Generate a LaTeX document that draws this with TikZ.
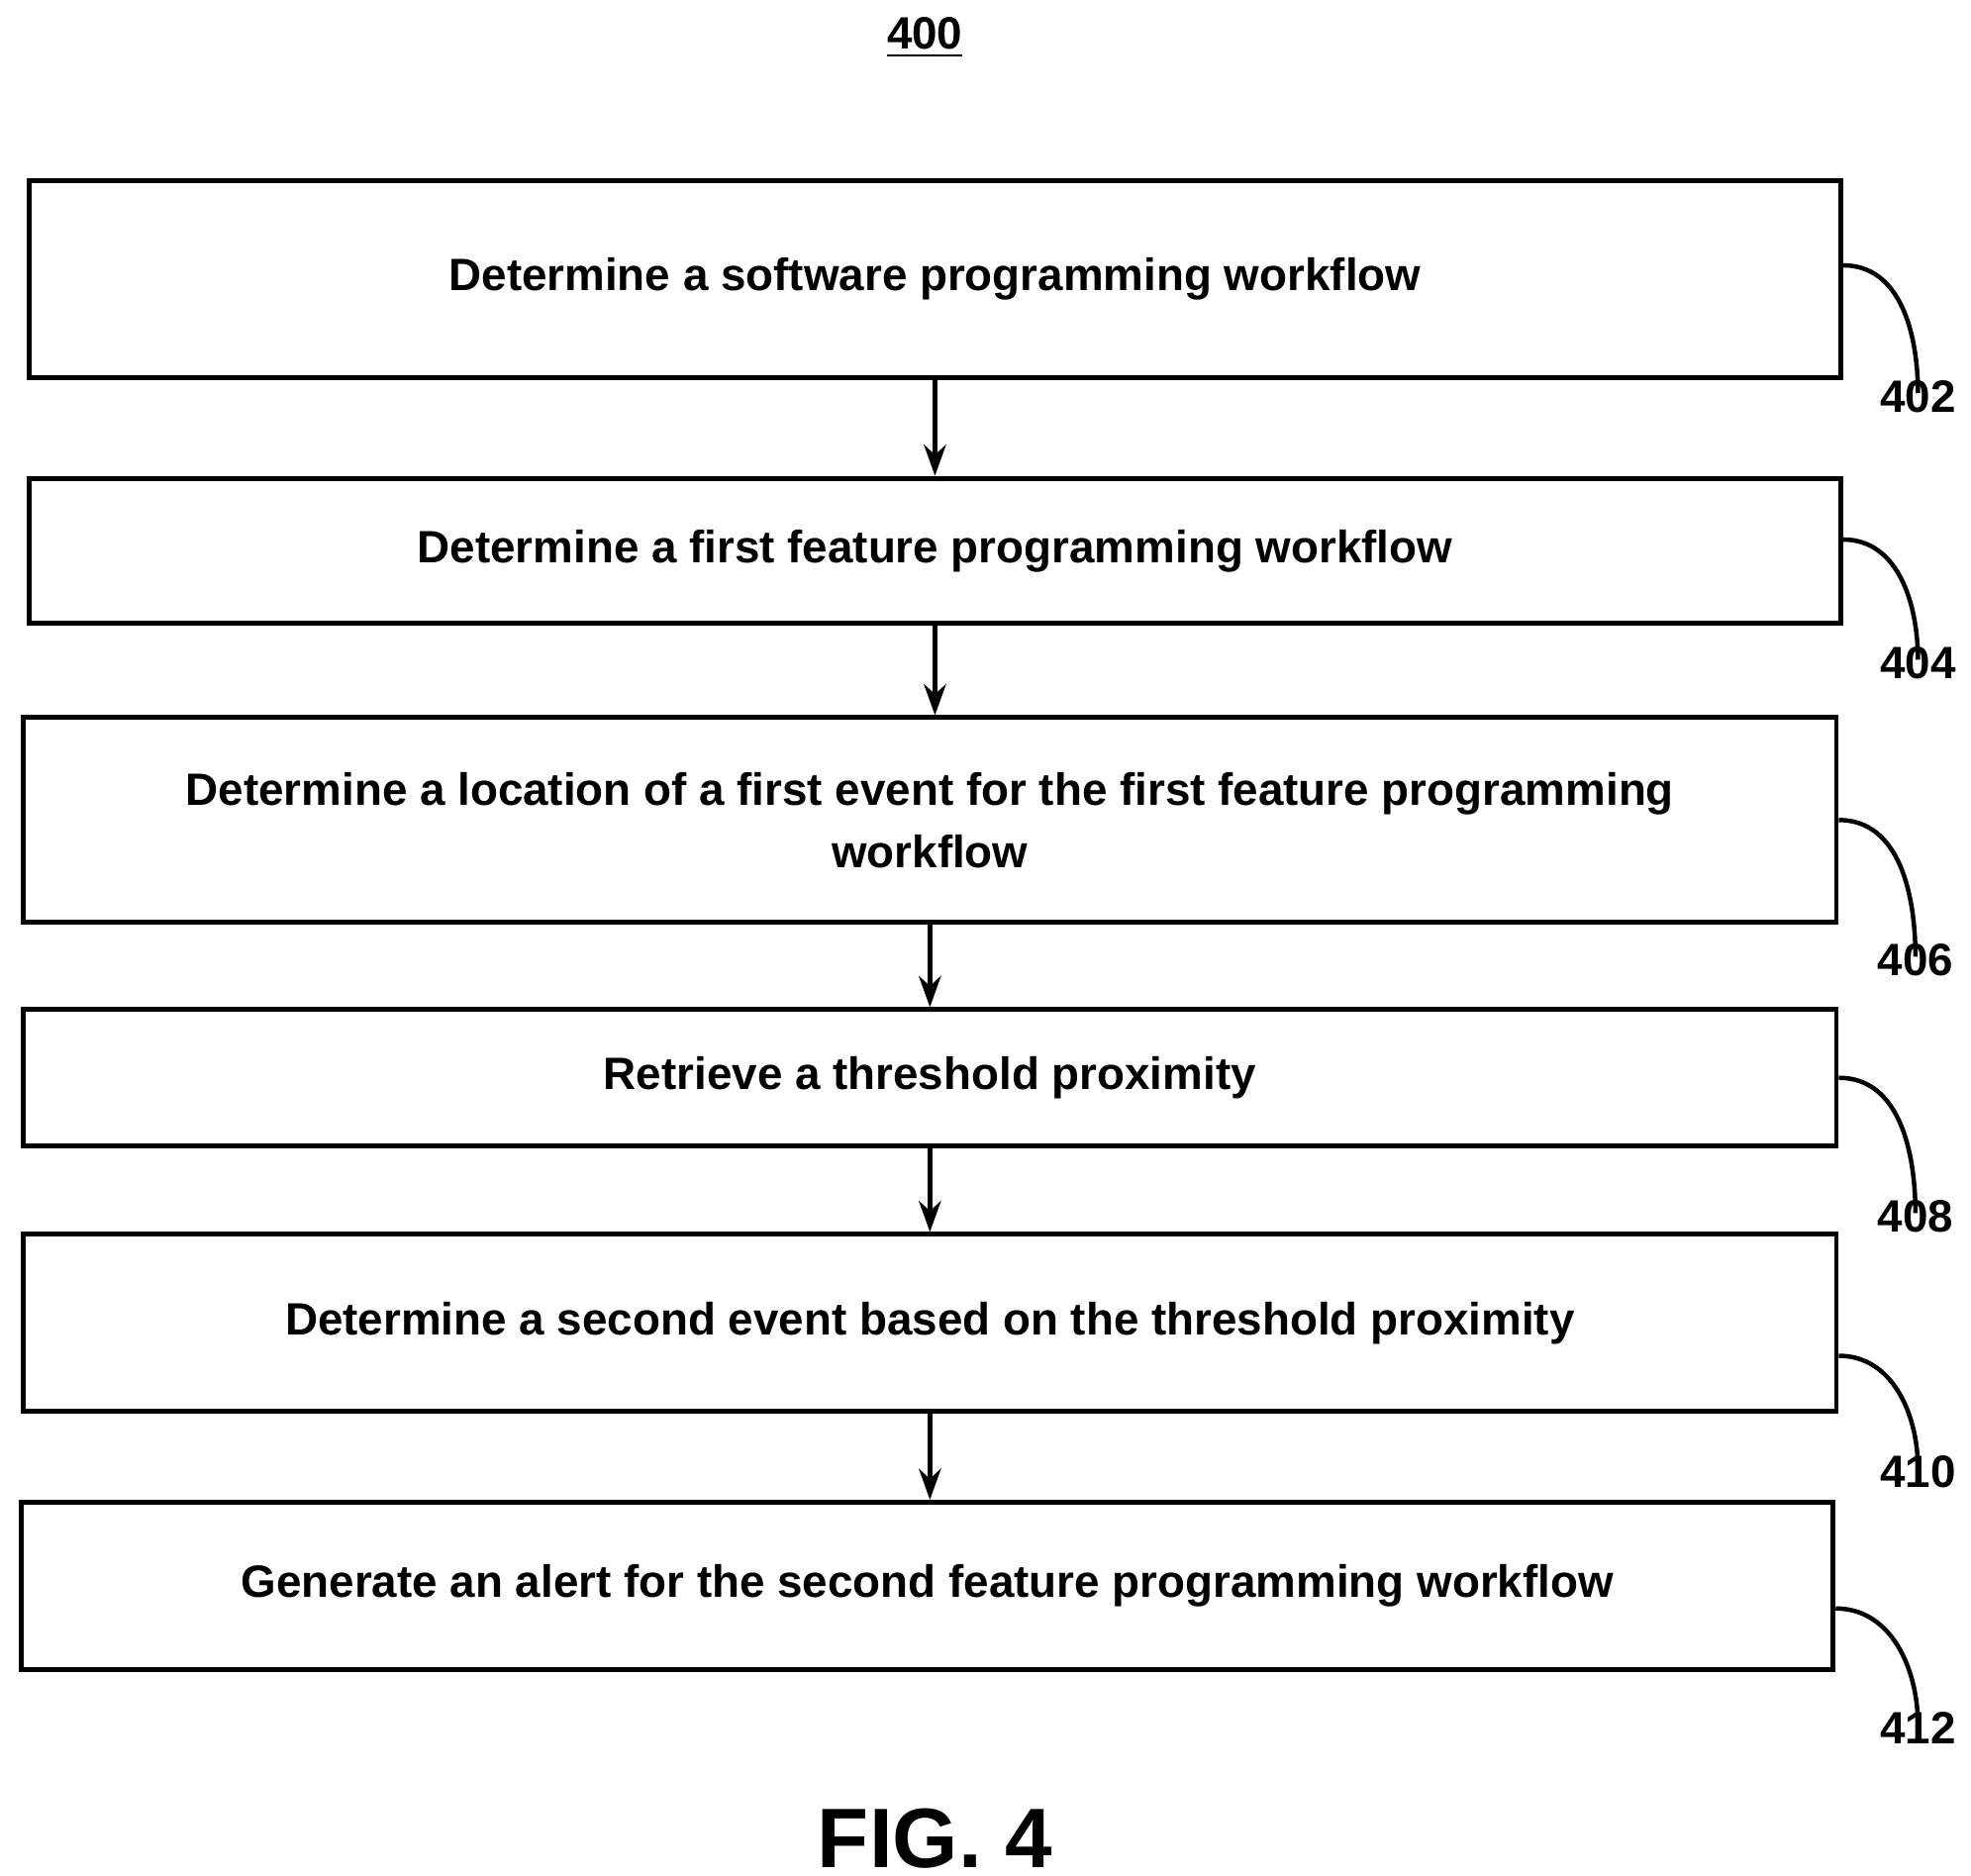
\documentclass[tikz,border=0pt]{standalone}
\usepackage{fontspec}
\setmainfont{Liberation Sans}
\usetikzlibrary{arrows.meta}

\tikzstyle{stage}=[rectangle, draw, line width=1.1pt, align=center,
                  font=\fontsize{10.2}{14}\selectfont\bfseries, inner sep=0pt]
\tikzstyle{ref}=[font=\fontsize{10.2}{12}\selectfont\bfseries, inner sep=1pt]
\tikzstyle{flow}=[-{Stealth[length=7pt,width=5pt]}, line width=1pt]
\tikzstyle{lead}=[line width=1pt]

\begin{document}
\begin{tikzpicture}[x=0.01cm, y=-0.01cm]
  \useasboundingbox (0,0) rectangle (1560,1484);

  %%%%%%%%%%%%%%%%%%%%%%%%%%%%%%
  % title
  \node (title) at (732,30) [ref] {\underline{400}};
  \node (fig) at (740,1455) [font=\fontsize{19}{22}\selectfont\bfseries] {FIG. 4};

  %%%%%%%%%%%%%%%%%%%%%%%%%%%%%%
  % stages
  \node (s402) at (740,221) [stage, minimum width=14.33cm, minimum height=1.56cm] {Determine a software programming workflow};
  \node (s404) at (740,436) [stage, minimum width=14.33cm, minimum height=1.15cm] {Determine a first feature programming workflow};
  \node (s406) at (736,649) [stage, minimum width=14.34cm, minimum height=1.62cm] {Determine a location of a first event for the first feature programming\\workflow};
  \node (s408) at (736,853) [stage, minimum width=14.34cm, minimum height=1.08cm] {Retrieve a threshold proximity};
  \node (s410) at (736,1047) [stage, minimum width=14.34cm, minimum height=1.40cm] {Determine a second event based on the threshold proximity};
  \node (s412) at (734,1255) [stage, minimum width=14.33cm, minimum height=1.32cm] {Generate an alert for the second feature programming workflow};

  %%%%%%%%%%%%%%%%%%%%%%%%%%%%%%
  % reference numerals
  \node (l402) at (1518,314) [ref] {402};
  \node (l404) at (1518,525) [ref] {404};
  \node (l406) at (1516,760) [ref] {406};
  \node (l408) at (1516,963) [ref] {408};
  \node (l410) at (1518,1165) [ref] {410};
  \node (l412) at (1518,1368) [ref] {412};

  \draw [lead] ([yshift=0.11cm]s402.east) to [out=0, in=90] ([yshift=-0.14cm]l402.north);
  \draw [lead] ([yshift=0.09cm]s404.east) to [out=0, in=90] ([yshift=-0.14cm]l404.north);
  \draw [lead] (s406.east) to [out=0, in=90] ([yshift=-0.14cm]l406.north);
  \draw [lead] (s408.east) to [out=0, in=90] ([yshift=-0.14cm]l408.north);
  \draw [lead] ([yshift=-0.26cm]s410.east) to [out=0, in=90] ([yshift=-0.14cm]l410.north);
  \draw [lead] ([yshift=-0.18cm]s412.east) to [out=0, in=90] ([yshift=-0.14cm]l412.north);

  %%%%%%%%%%%%%%%%%%%%%%%%%%%%%%
  % links
  \draw [flow] (s402.south -| 740,0) to (s404.north -| 740,0);
  \draw [flow] (s404.south -| 740,0) to (s406.north -| 740,0);
  \draw [flow] (s406) to (s408);
  \draw [flow] (s408) to (s410);
  \draw [flow] (s410.south -| 736,0) to (s412.north -| 736,0);

\end{tikzpicture}
\end{document}
